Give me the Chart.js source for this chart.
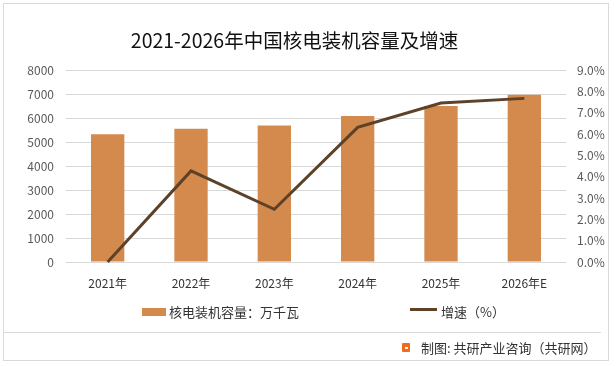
<!DOCTYPE html>
<html>
<head>
<meta charset="utf-8">
<script src="https://cdn.jsdelivr.net/npm/chart.js@4/dist/chart.umd.min.js"></script>
<style>
  html, body { margin: 0; padding: 0; background: #fff; }
  body { width: 616px; height: 366px; overflow: hidden; position: relative;
         font-family: "Noto Sans CJK SC", "Noto Sans", sans-serif; }
  #wrap { position: absolute; left: 0; top: 0; width: 616px; height: 366px; }
  #frame { position: absolute; left: 3px; top: 3px; width: 604px; height: 356px;
           border: 1px solid #d9d9d9; box-sizing: content-box; }
  #title { position: absolute; left: 0; top: 28px; width: 589px; text-align: center;
           font-size: 19.5px; line-height: 24px; color: #111; white-space: nowrap; }
  .leg { position: absolute; font-size: 13px; line-height: 16px; color: #333; white-space: nowrap; }
  .sw { position: absolute; }
  #sep { position: absolute; left: 4px; top: 332px; width: 597px; height: 1px; background: #d9d9d9; }
  #foot { position: absolute; left: 421px; top: 339px; font-size: 13px; line-height: 18px; color: #333; white-space: nowrap; }
  #logo { position: absolute; left: 402px; top: 343px; width: 8px; height: 9px; background: #f26a1b; border-radius: 1px; }
  #logo i { position: absolute; left: 3px; top: 4px; width: 3px; height: 2px; background: #fff; }
  canvas { position: absolute; left: 0; top: 0; }
</style>
</head>
<body>
<div id="wrap">
  <div id="frame"></div>
  <canvas id="c" width="616" height="366"></canvas>
  <div id="title">2021-2026年中国核电装机容量及增速</div>
  <div class="sw" id="sw1" style="left:142px;top:308px;width:24px;height:8px;"></div>
  <div class="leg" style="left:169px;top:304px;" id="lg1"></div>
  <div class="sw" id="sw2" style="left:410px;top:308px;width:27px;height:3px;"></div>
  <div class="leg" style="left:441px;top:304px;" id="lg2"></div>
  <div id="sep"></div>
  <div id="logo"><i></i></div>
  <div id="foot">制图: 共研产业咨询（共研网）</div>
</div>
<script>
const categories = ["2021年", "2022年", "2023年", "2024年", "2025年", "2026年E"];
const capacity = [5326, 5553, 5691, 6083, 6500, 6970];
const growth = [0.0, 4.27, 2.47, 6.31, 7.45, 7.67];
const seriesNames = ["核电装机容量：万千瓦", "增速（%）"];
const leftTicks = [0, 1000, 2000, 3000, 4000, 5000, 6000, 7000, 8000];
const rightTicks = [0, 1, 2, 3, 4, 5, 6, 7, 8, 9];

const barColor = "#d48a4c";
const lineColor = "#5e4129";

document.getElementById("sw1").style.background = barColor;
document.getElementById("sw2").style.background = lineColor;
document.getElementById("lg1").textContent = seriesNames[0];
document.getElementById("lg2").textContent = seriesNames[1];

const font = { family: '"Noto Sans CJK SC", "Noto Sans", sans-serif', size: 12 };

new Chart(document.getElementById("c"), {
  data: {
    labels: categories,
    datasets: [
      {
        type: "line",
        label: seriesNames[1],
        data: growth,
        yAxisID: "y1",
        borderColor: lineColor,
        backgroundColor: lineColor,
        borderWidth: 3,
        pointRadius: 0,
        tension: 0,
        clip: false,
        order: 0
      },
      {
        type: "bar",
        label: seriesNames[0],
        data: capacity,
        yAxisID: "y",
        backgroundColor: barColor,
        barPercentage: 0.4,
        categoryPercentage: 1.0,
        order: 1
      }
    ]
  },
  options: {
    responsive: false,
    animation: false,
    layout: { padding: { left: 0, right: 0, top: 70, bottom: 0 } },
    plugins: { legend: { display: false }, title: { display: false }, tooltip: { enabled: false } },
    scales: {
      x: {
        offset: true,
        grid: { display: false, drawTicks: false },
        border: { display: false },
        ticks: { color: "#333", font: font, padding: 14, maxRotation: 0 },
        afterFit: (s) => { s.height = 104; }
      },
      y: {
        position: "left",
        min: 0, max: 8000,
        afterBuildTicks: (s) => { s.ticks = leftTicks.map(v => ({ value: v })); },
        grid: { color: "#d9d9d9", lineWidth: 1, drawTicks: false },
        border: { display: false },
        ticks: { color: "#595959", font: font, padding: 12, callback: (v) => String(v) },
        afterFit: (s) => { s.width = 66; }
      },
      y1: {
        position: "right",
        min: 0, max: 9,
        afterBuildTicks: (s) => { s.ticks = rightTicks.map(v => ({ value: v })); },
        grid: { display: false, drawTicks: false },
        border: { display: false },
        ticks: { color: "#595959", font: font, padding: 11, callback: (v) => Number(v).toFixed(1) + "%" },
        afterFit: (s) => { s.width = 50; }
      }
    }
  }
});
</script>
</body>
</html>
